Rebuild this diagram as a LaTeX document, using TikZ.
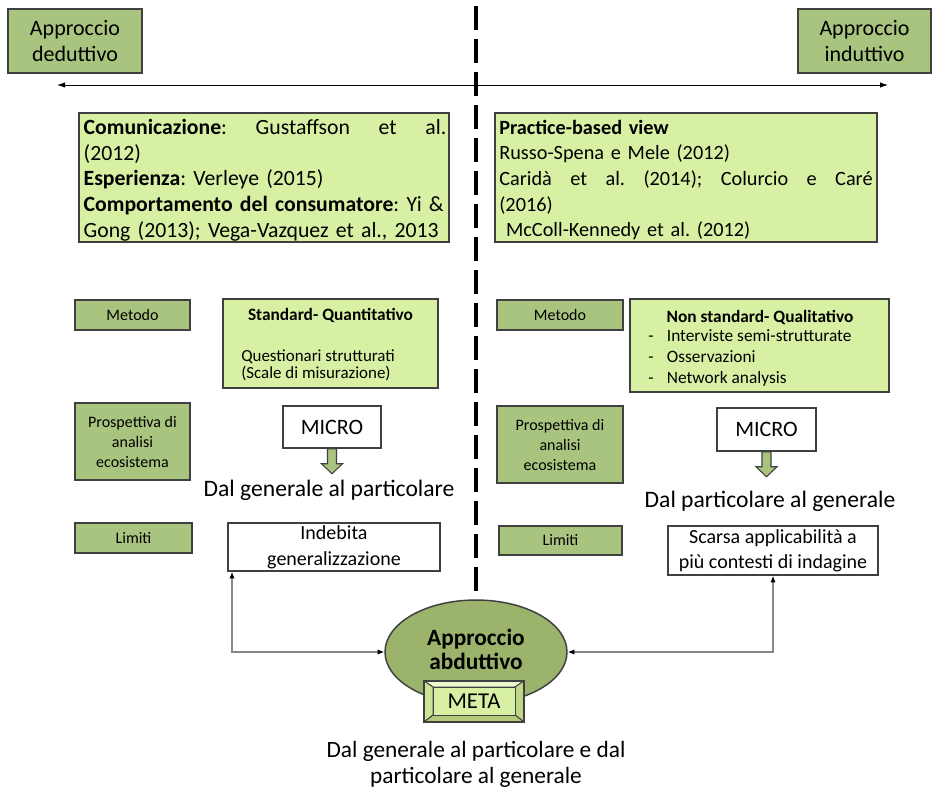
\documentclass[tikz,border=0pt]{standalone}
\usepackage{fontspec}
\setmainfont{Carlito}
\usetikzlibrary{arrows.meta,shapes.geometric}

\definecolor{boxgreen}{RGB}{169,196,127}
\definecolor{palegreen}{RGB}{216,240,163}
\definecolor{ellgreen}{RGB}{155,179,107}
\definecolor{edge}{RGB}{64,64,64}
\definecolor{linkgray}{RGB}{135,135,135}

\begin{document}
\frenchspacing
\begin{tikzpicture}[x=0.75pt,y=-0.75pt,
  sz/.style 2 args={minimum width=#1*0.75pt, minimum height=#2*0.75pt},
  approach/.style={draw=edge, line width=1.1pt, fill=boxgreen, inner sep=0pt,
    align=center, font=\fontsize{16.5}{19.5}\selectfont},
  tag/.style={draw=edge, line width=1.1pt, fill=boxgreen, inner sep=0pt,
    align=center, font=\fontsize{12}{15}\selectfont},
  panel/.style={draw=edge, line width=1.1pt, fill=palegreen, inner sep=0pt},
  reftext/.style={inner sep=0pt, align=left},
  plain/.style={draw=edge, line width=1.1pt, fill=white, inner sep=0pt, align=center},
  scaletext/.style={inner sep=0pt, align=center, font=\fontsize{17.7}{20}\selectfont},
  axis/.style={black, line width=0.6pt,
    {Latex[length=6pt,width=4pt]}-{Latex[length=6pt,width=4pt]}},
  divider/.style={black, line width=2.3pt, dash pattern=on 18pt off 6.75pt},
  link/.style={linkgray, line width=0.9pt,
    {Latex[length=5pt,width=4pt,black]}-{Latex[length=5pt,width=4pt,black]}},
  blockarrow/.style={draw=edge, line width=0.8pt, fill=boxgreen, line join=miter},
]
\useasboundingbox (0,0) rectangle (937,789);

% --- the two approaches and the axis between them
\node[approach, sz={134}{64}] (ded) at (75,41) {Approccio\\deduttivo};
\node[approach, sz={133}{64}] (ind) at (864.5,41) {Approccio\\induttivo};
\coordinate (axl) at (57,85);
\coordinate (axr) at (888,85);
\draw[axis] (axl) -- (axr);

% --- references
\node[panel, sz={370}{129}] (refL) at (264,177.5) {};
\node[reftext, text width=272pt, font=\fontsize{16.3}{19.3}\selectfont] (refLtext)
  at (265,180)
  {\leavevmode\hbox to 272pt{\textbf{Comunicazione}:\hfill Gustaffson\hfill et\hfill al.}\\
   (2012)\\
   \textbf{Esperienza}: Verleye (2015)\\
   \textbf{Comportamento del consumatore}: Yi \&\\
   Gong (2013); Vega-Vazquez et al., 2013};
\node[panel, sz={382}{129}] (refR) at (686,177.5) {};
\node[reftext, text width=280pt, font=\fontsize{15.2}{19.3}\selectfont] (refRtext)
  at (686,180)
  {\textbf{Practice-based view}\\
   Russo-Spena e Mele (2012)\\
   \leavevmode\hbox to 280pt{Caridà\hfill et\hfill al.\hfill (2014);\hfill Colurcio\hfill e\hfill Caré}\\
   (2016)\\
   \ McColl-Kennedy et al. (2012)};

% --- method row
\node[tag, sz={115}{30}] (metL) at (132.5,315) {Metodo};
\node[panel, sz={215}{89}] (stdbox) at (330.5,343.5) {};
\node[inner sep=0pt, font=\fontsize{13}{15}\selectfont\bfseries] (stdtitle) at (330.5,315)
  {Standard- Quantitativo};
\node[inner sep=0pt, anchor=west, align=left, font=\fontsize{12.7}{12.6}\selectfont] (stdtools)
  at (241,365.5) {Questionari strutturati\\(Scale di misurazione)};

\node[tag, sz={126}{30}] (metR) at (560,315) {Metodo};
\node[panel, sz={259}{93}] (nsbox) at (759.5,345.5) {};
\node[inner sep=0pt, font=\fontsize{13}{15}\selectfont\bfseries] (nstitle) at (760,317)
  {Non standard- Qualitativo};
\node[inner sep=0pt, anchor=west, font=\fontsize{13}{15.75}\selectfont] (nstools) at (648,358)
  {\begin{tabular}{@{}l@{\hspace{10pt}}l@{}}
   - & Interviste semi-strutturate\\
   - & Osservazioni\\
   - & Network analysis
   \end{tabular}};

% --- perspective row
\node[tag, sz={115}{77}] (proL) at (132.5,441.5) {Prospettiva di\\analisi\\ecosistema};
\node[plain, sz={98}{42}, font=\fontsize{16.5}{19}\selectfont] (micL) at (332,427) {MICRO};
\begin{scope}[shift={(micL.south)}]
  \filldraw[blockarrow] (-4.5,0) -- (-4.5,15) -- (-10.5,15) -- (0,25) -- (10.5,15)
    -- (4.5,15) -- (4.5,0) -- cycle;
\end{scope}
\node[scaletext] (dirL) at (329,490) {Dal generale al particolare};

\node[tag, sz={126}{77}] (proR) at (560,444.5) {Prospettiva di\\analisi\\ecosistema};
\node[plain, sz={99}{43}, font=\fontsize{16.5}{19}\selectfont] (micR) at (766.5,429.5) {MICRO};
\begin{scope}[shift={(micR.south)}]
  \filldraw[blockarrow] (-4.5,0) -- (-4.5,15) -- (-10.5,15) -- (0,25) -- (10.5,15)
    -- (4.5,15) -- (4.5,0) -- cycle;
\end{scope}
\node[scaletext] (dirR) at (770,501) {Dal particolare al generale};

% --- limits row
\node[tag, sz={117}{30}] (limL) at (133.5,538) {Limiti};
\node[plain, sz={212}{48}, font=\fontsize{15}{19.5}\selectfont] (indeb) at (334,547)
  {Indebita\\generalizzazione};
\node[tag, sz={123}{29}] (limR) at (560.5,540.5) {Limiti};
\node[plain, sz={210}{49}, font=\fontsize{15}{18.5}\selectfont] (scar) at (773,550.5)
  {Scarsa applicabilità a\\più contesti di indagine};

% --- abductive approach
\node[ellipse, draw=edge, line width=1.1pt, fill=ellgreen, sz={182}{104}, inner sep=0pt,
  align=center, font=\fontsize{17.5}{19}\selectfont\bfseries] (abd) at (476,652)
  {\raisebox{5pt}{\begin{tabular}{@{}c@{}}Approccio\\[-1pt]abduttivo\end{tabular}}};

% bevelled META plate
\filldraw[draw=edge, line width=0.7pt, fill={rgb,255:red,236;green,250;blue,205}]
  (424,681) -- (524,681) -- (515,687) -- (433,687) -- cycle;
\filldraw[draw=edge, line width=0.7pt, fill={rgb,255:red,205;green,228;blue,150}]
  (424,681) -- (433,687) -- (433,715) -- (424,722) -- cycle;
\filldraw[draw=edge, line width=0.7pt, fill={rgb,255:red,190;green,215;blue,135}]
  (524,681) -- (515,687) -- (515,715) -- (524,722) -- cycle;
\filldraw[draw=edge, line width=0.7pt, fill={rgb,255:red,178;green,202;blue,122}]
  (424,722) -- (433,715) -- (515,715) -- (524,722) -- cycle;
\node[draw=edge, line width=0.7pt, fill=palegreen, sz={82}{28}, inner sep=0pt,
  font=\fontsize{17}{19}\selectfont] (meta) at (474,701) {META};
\draw[edge, line width=1.1pt] (424,681) rectangle (524,722);

\node[scaletext, font=\fontsize{17.5}{19.5}\selectfont] (dirM) at (476,764)
  {Dal generale al particolare e dal\\particolare al generale};

% --- divider and links
\coordinate (dtop) at (476,6);
\draw[divider] (dtop) -- (abd.north);
\coordinate (lbend) at (232,652);
\draw[link] (indeb.south -| lbend) -- (lbend) -- (abd.west);
\draw[link] (scar.south) -- (scar.south |- abd.east) -- (abd.east);
\end{tikzpicture}
\end{document}
